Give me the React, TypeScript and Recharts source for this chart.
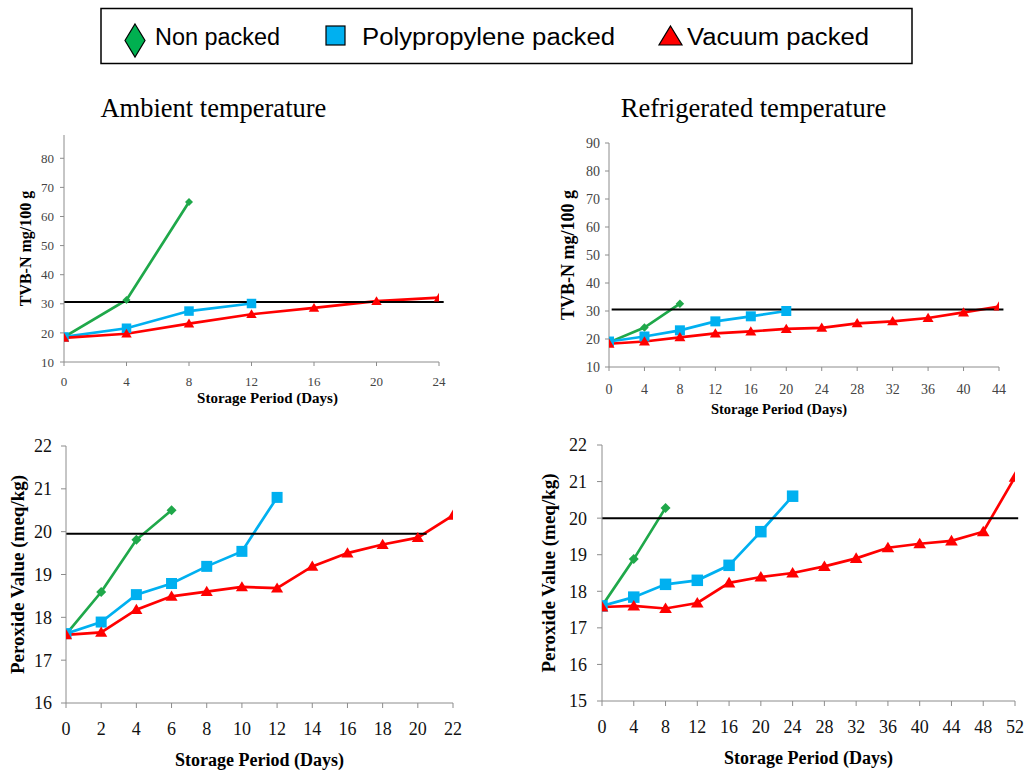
import React from 'react';
import { LineChart, Line, XAxis, YAxis, ReferenceLine } from 'recharts';

const GREEN = '#1fa84a';
const BLUE = '#00b0f0';
const RED = '#ff0000';
const AXIS = '#8c8c8c';
const SERIF = '"Liberation Serif", "Times New Roman", serif';
const SANS = '"Liberation Sans", Arial, sans-serif';

const SERIES_NAMES = ['Non packed', 'Polypropylene packed', 'Vacuum packed'];

// TVB-N, ambient temperature (days step 4)
const AMB_TVB_DAYS = [0, 4, 8, 12, 16, 20, 24];
const AMB_TVB_NON = [18.6, 31.3, 65.0];
const AMB_TVB_PP = [18.6, 21.6, 27.5, 30.1];
const AMB_TVB_VAC = [18.3, 19.7, 23.2, 26.4, 28.6, 30.9, 32.1];
const AMB_TVB_YTICKS = [10, 20, 30, 40, 50, 60, 70, 80];
const AMB_TVB_LIMIT = 30.6;

// TVB-N, refrigerated temperature
const REF_TVB_DAYS = [0, 4, 8, 12, 16, 20, 24, 28, 32, 36, 40, 44];
const REF_TVB_NON = [18.8, 24.1, 32.6];
const REF_TVB_PP = [19.1, 20.9, 23.1, 26.3, 28.1, 30.0];
const REF_TVB_VAC = [18.3, 19.1, 20.6, 22.0, 22.7, 23.6, 24.0, 25.6, 26.3, 27.5, 29.5, 31.6];
const REF_TVB_YTICKS = [10, 20, 30, 40, 50, 60, 70, 80, 90];
const REF_TVB_LIMIT = 30.5;

// Peroxide value, ambient temperature (days step 2)
const AMB_PV_DAYS = [0, 2, 4, 6, 8, 10, 12, 14, 16, 18, 20, 22];
const AMB_PV_NON = [17.6, 18.59, 19.81, 20.5];
const AMB_PV_PP = [17.62, 17.89, 18.53, 18.79, 19.19, 19.54, 20.8];
const AMB_PV_VAC = [17.59, 17.65, 18.18, 18.49, 18.6, 18.71, 18.68, 19.19, 19.5, 19.7, 19.86, 20.38];
const AMB_PV_YTICKS = [16, 17, 18, 19, 20, 21, 22];
const AMB_PV_LIMIT = 19.95;

// Peroxide value, refrigerated temperature
const REF_PV_DAYS = [0, 4, 8, 12, 16, 20, 24, 28, 32, 36, 40, 44, 48, 52];
const REF_PV_NON = [17.6, 18.88, 20.28];
const REF_PV_PP = [17.6, 17.84, 18.19, 18.3, 18.71, 19.63, 20.6];
const REF_PV_VAC = [17.57, 17.6, 17.53, 17.68, 18.23, 18.39, 18.5, 18.68, 18.9, 19.19, 19.3, 19.38, 19.63, 21.12];
const REF_PV_YTICKS = [15, 16, 17, 18, 19, 20, 21, 22];
const REF_PV_LIMIT = 20;

type Shape = 'diamond' | 'square' | 'triangle';
type Pt = { day: number; v: number };

const zip = (days: number[], vals: number[]): Pt[] => vals.map((v, i) => ({ day: days[i], v }));

const makeDot = (shape: Shape, color: string, size: number) => (p: any) => {
  const { cx, cy, index } = p;
  const key = `d-${shape}-${index}`;
  if (cx == null || cy == null) return <g key={key} />;
  const h = size / 2;
  if (shape === 'square') {
    return <rect key={key} x={cx - h} y={cy - h} width={size} height={size} fill={color} />;
  }
  if (shape === 'triangle') {
    return (
      <path
        key={key}
        d={`M${cx},${cy - h * 1.05}L${cx + h * 1.1},${cy + h * 0.8}L${cx - h * 1.1},${cy + h * 0.8}Z`}
        fill={color}
      />
    );
  }
  // diamond
  return <path key={key} d={`M${cx},${cy - h}L${cx + h},${cy}L${cx},${cy + h}L${cx - h},${cy}Z`} fill={color} />;
};

interface PanelProps {
  left: number;
  top: number;
  width: number;
  height: number;
  margin: { top: number; right: number; bottom: number; left: number };
  yWidth: number;
  xHeight: number;
  days: number[];
  non: number[];
  pp: number[];
  vac: number[];
  xDomain: [number, number];
  yDomain: [number, number];
  yTicks: number[];
  limit: number;
  limitFrom: number;
  limitTo: number;
  yLabel: string;
  tickFont: number;
  xLabelFont: number;
  yLabelFont: number;
  tickSize: number;
  xTickGap: number;
  yTickGap: number;
  yLabelOffset: number;
  xLabelOffset: number;
  xLabelDx: number;
  tickColor: string;
  markerSize: number;
  diamondSize: number;
}

const Panel: React.FC<PanelProps> = (p) => {
  const lines = [
    { name: SERIES_NAMES[0], vals: p.non, color: GREEN, shape: 'diamond' as Shape, size: p.diamondSize },
    { name: SERIES_NAMES[1], vals: p.pp, color: BLUE, shape: 'square' as Shape, size: p.markerSize },
    { name: SERIES_NAMES[2], vals: p.vac, color: RED, shape: 'triangle' as Shape, size: p.markerSize },
  ];
  return (
    <div style={{ position: 'absolute', left: p.left, top: p.top }}>
      <LineChart width={p.width} height={p.height} margin={p.margin}>
        <XAxis
          type="number"
          dataKey="day"
          domain={p.xDomain}
          ticks={p.days}
          interval={0}
          allowDataOverflow
          height={p.xHeight}
          stroke={AXIS}
          tickSize={p.tickSize}
          tickMargin={p.xTickGap}
          tick={{ fill: p.tickColor, fontSize: p.tickFont, fontFamily: SERIF }}
          label={{
            value: 'Storage Period (Days)',
            position: 'insideBottom',
            offset: p.xLabelOffset,
            dx: p.xLabelDx,
            style: { textAnchor: 'middle', fontWeight: 'bold', fontSize: p.xLabelFont, fontFamily: SERIF, fill: '#000' },
          }}
        />
        <YAxis
          type="number"
          domain={p.yDomain}
          ticks={p.yTicks}
          interval={0}
          allowDataOverflow
          width={p.yWidth}
          stroke={AXIS}
          tickSize={p.tickSize}
          tickMargin={p.yTickGap}
          tick={{ fill: p.tickColor, fontSize: p.tickFont, fontFamily: SERIF }}
          label={{
            value: p.yLabel,
            angle: -90,
            position: 'insideLeft',
            offset: p.yLabelOffset,
            style: { textAnchor: 'middle', fontWeight: 'bold', fontSize: p.yLabelFont, fontFamily: SERIF, fill: '#000' },
          }}
        />
        {lines.map((l) => (
          <Line
            key={l.name}
            name={l.name}
            data={zip(p.days, l.vals)}
            dataKey="v"
            type="linear"
            stroke={l.color}
            strokeWidth={2.7}
            dot={makeDot(l.shape, l.color, l.size)}
            activeDot={false}
            isAnimationActive={false}
          />
        ))}
        <ReferenceLine
          segment={[
            { x: p.limitFrom, y: p.limit },
            { x: p.limitTo, y: p.limit },
          ]}
          stroke="#000"
          strokeWidth={2}
          ifOverflow="visible"
        />
      </LineChart>
    </div>
  );
};

const LegendBox: React.FC = () => (
  <svg width={1030} height={130} style={{ position: 'absolute', left: 0, top: 0 }}>
    <rect x={101} y={8.5} width={811} height={55} fill="#fff" stroke="#000" strokeWidth={1.5} />
    <path d="M135,24 L145,40.5 L135,57 L125,40.5 Z" fill="#00b050" stroke="#000" strokeWidth={1.2} />
    <text x={155} y={45} fontFamily={SANS} fontSize={23.5} fill="#000" textLength={125} lengthAdjust="spacingAndGlyphs">
      {SERIES_NAMES[0]}
    </text>
    <rect x={326} y={26} width={19} height={19} fill={BLUE} stroke="#000" strokeWidth={1.2} />
    <text x={362} y={45} fontFamily={SANS} fontSize={23.5} fill="#000" textLength={253} lengthAdjust="spacingAndGlyphs">
      {SERIES_NAMES[1]}
    </text>
    <path d="M670.5,26 L682,45 L659,45 Z" fill={RED} stroke="#000" strokeWidth={1.2} />
    <text x={687} y={45} fontFamily={SANS} fontSize={23.5} fill="#000" textLength={182} lengthAdjust="spacingAndGlyphs">
      {SERIES_NAMES[2]}
    </text>
    <text x={213.4} y={117} textAnchor="middle" fontFamily={SERIF} fontSize={26.5} fill="#000">
      Ambient temperature
    </text>
    <text x={753.5} y={117} textAnchor="middle" fontFamily={SERIF} fontSize={26.5} fill="#000">
      Refrigerated temperature
    </text>
  </svg>
);

export default function App() {
  return (
    <div style={{ position: 'absolute', left: 0, top: 0, width: 1030, height: 775, background: '#fff', overflow: 'hidden' }}>
      <LegendBox />
      <Panel
        left={0}
        top={120}
        width={470}
        height={300}
        margin={{ top: 15, right: 31, bottom: 8, left: 20 }}
        yWidth={44}
        xHeight={50}
        days={AMB_TVB_DAYS}
        non={AMB_TVB_NON}
        pp={AMB_TVB_PP}
        vac={AMB_TVB_VAC}
        xDomain={[0, 24]}
        yDomain={[10, 88]}
        yTicks={AMB_TVB_YTICKS}
        limit={AMB_TVB_LIMIT}
        limitFrom={0}
        limitTo={24.3}
        yLabel="TVB-N mg/100 g"
        tickFont={13}
        xLabelFont={15}
        yLabelFont={16}
        tickSize={4}
        xTickGap={11}
        yTickGap={6}
        yLabelOffset={5}
        xLabelOffset={9}
        xLabelDx={16}
        tickColor="#444"
        markerSize={9.5}
        diamondSize={8}
      />
      <Panel
        left={540}
        top={120}
        width={490}
        height={300}
        margin={{ top: 23, right: 31, bottom: 1, left: 20 }}
        yWidth={49}
        xHeight={52}
        days={REF_TVB_DAYS}
        non={REF_TVB_NON}
        pp={REF_TVB_PP}
        vac={REF_TVB_VAC}
        xDomain={[0, 44]}
        yDomain={[10, 90]}
        yTicks={REF_TVB_YTICKS}
        limit={REF_TVB_LIMIT}
        limitFrom={0.3}
        limitTo={44.5}
        yLabel="TVB-N mg/100 g"
        tickFont={14}
        xLabelFont={14.5}
        yLabelFont={18}
        tickSize={4}
        xTickGap={13}
        yTickGap={5}
        yLabelOffset={8}
        xLabelOffset={5}
        xLabelDx={-25}
        tickColor="#444"
        markerSize={10}
        diamondSize={8.5}
      />
      <Panel
        left={0}
        top={430}
        width={480}
        height={345}
        margin={{ top: 16, right: 27, bottom: 4, left: 10 }}
        yWidth={56}
        xHeight={68}
        days={AMB_PV_DAYS}
        non={AMB_PV_NON}
        pp={AMB_PV_PP}
        vac={AMB_PV_VAC}
        xDomain={[0, 22]}
        yDomain={[16, 22]}
        yTicks={AMB_PV_YTICKS}
        limit={AMB_PV_LIMIT}
        limitFrom={0}
        limitTo={20.5}
        yLabel="Peroxide Value (meq/kg)"
        tickFont={18}
        xLabelFont={18}
        yLabelFont={19}
        tickSize={5}
        xTickGap={14}
        yTickGap={9}
        yLabelOffset={7}
        xLabelOffset={5}
        xLabelDx={0}
        tickColor="#111"
        markerSize={11}
        diamondSize={10}
      />
      <Panel
        left={530}
        top={430}
        width={500}
        height={345}
        margin={{ top: 15, right: 15, bottom: 6, left: 10 }}
        yWidth={62}
        xHeight={68}
        days={REF_PV_DAYS}
        non={REF_PV_NON}
        pp={REF_PV_PP}
        vac={REF_PV_VAC}
        xDomain={[0, 52]}
        yDomain={[15, 22]}
        yTicks={REF_PV_YTICKS}
        limit={REF_PV_LIMIT}
        limitFrom={0}
        limitTo={52.4}
        yLabel="Peroxide Value (meq/kg)"
        tickFont={18}
        xLabelFont={18}
        yLabelFont={19}
        tickSize={5}
        xTickGap={14}
        yTickGap={10}
        yLabelOffset={8}
        xLabelOffset={5}
        xLabelDx={0}
        tickColor="#111"
        markerSize={11.5}
        diamondSize={10}
      />
    </div>
  );
}
